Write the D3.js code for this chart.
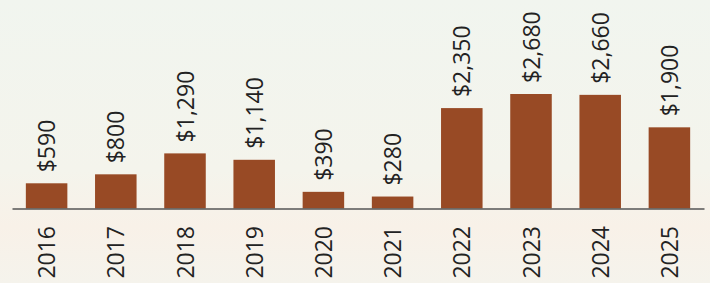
<!DOCTYPE html>
<html>
<head>
<meta charset="utf-8">
<script src="https://cdn.jsdelivr.net/npm/d3@7"></script>
<style>
  html, body { margin: 0; padding: 0; }
  body { width: 710px; height: 283px; overflow: hidden; }
  svg { display: block; }
  text { font-family: "Open Sans", "Noto Sans", sans-serif; fill: #222; }
</style>
</head>
<body>
<svg id="chart" width="710" height="283"></svg>
<script>
const years = ["2016","2017","2018","2019","2020","2021","2022","2023","2024","2025"];
const values = [590, 800, 1290, 1140, 390, 280, 2350, 2680, 2660, 1900];
const valueLabels = ["$590","$800","$1,290","$1,140","$390","$280","$2,350","$2,680","$2,660","$1,900"];

const W = 710, H = 283;
const svg = d3.select("#chart");

const defs = svg.append("defs");
const grad = defs.append("linearGradient").attr("id", "bg").attr("x1", 0).attr("y1", 0).attr("x2", 0).attr("y2", 1);
grad.append("stop").attr("offset", "0%").attr("stop-color", "#f1f5ef");
grad.append("stop").attr("offset", "60%").attr("stop-color", "#f4f4ec");
grad.append("stop").attr("offset", "80%").attr("stop-color", "#f8f1e8");
grad.append("stop").attr("offset", "100%").attr("stop-color", "#f5f3ec");
svg.append("rect").attr("width", W).attr("height", H).attr("fill", "url(#bg)");

const x = d3.scaleBand().domain(years).range([12, 704]).paddingInner(0.4).paddingOuter(0.2);
const y = d3.scaleLinear().domain([0, 2680]).range([208.5, 94]);

const data = years.map((yr, i) => ({ year: yr, value: values[i], label: valueLabels[i] }));

svg.selectAll("rect.bar").data(data).enter().append("rect")
  .attr("class", "bar")
  .attr("x", d => x(d.year))
  .attr("width", x.bandwidth())
  .attr("y", d => y(d.value))
  .attr("height", d => y(0) - y(d.value))
  .attr("fill", "#984a25");

// axis line
const axis = d3.axisBottom(x).tickSize(0).tickFormat("");
svg.append("g").attr("transform", `translate(0,${y(0)})`).call(axis)
  .call(g => g.select(".domain").attr("stroke", "#555").attr("stroke-width", 1.5));

// year labels
svg.selectAll("text.year").data(data).enter().append("text")
  .attr("class", "year")
  .attr("transform", d => `translate(${x(d.year) + x.bandwidth() / 2 + 8.5},${226}) rotate(-90)`)
  .attr("text-anchor", "end")
  .style("font-size", "23px")
  .text(d => d.year);

// value labels
svg.selectAll("text.val").data(data).enter().append("text")
  .attr("class", "val")
  .attr("transform", d => `translate(${x(d.year) + x.bandwidth() / 2 + 8.5},${y(d.value) - 11}) rotate(-90)`)
  .attr("text-anchor", "start")
  .style("font-size", "23px")
  .text(d => d.label);
</script>
</body>
</html>
